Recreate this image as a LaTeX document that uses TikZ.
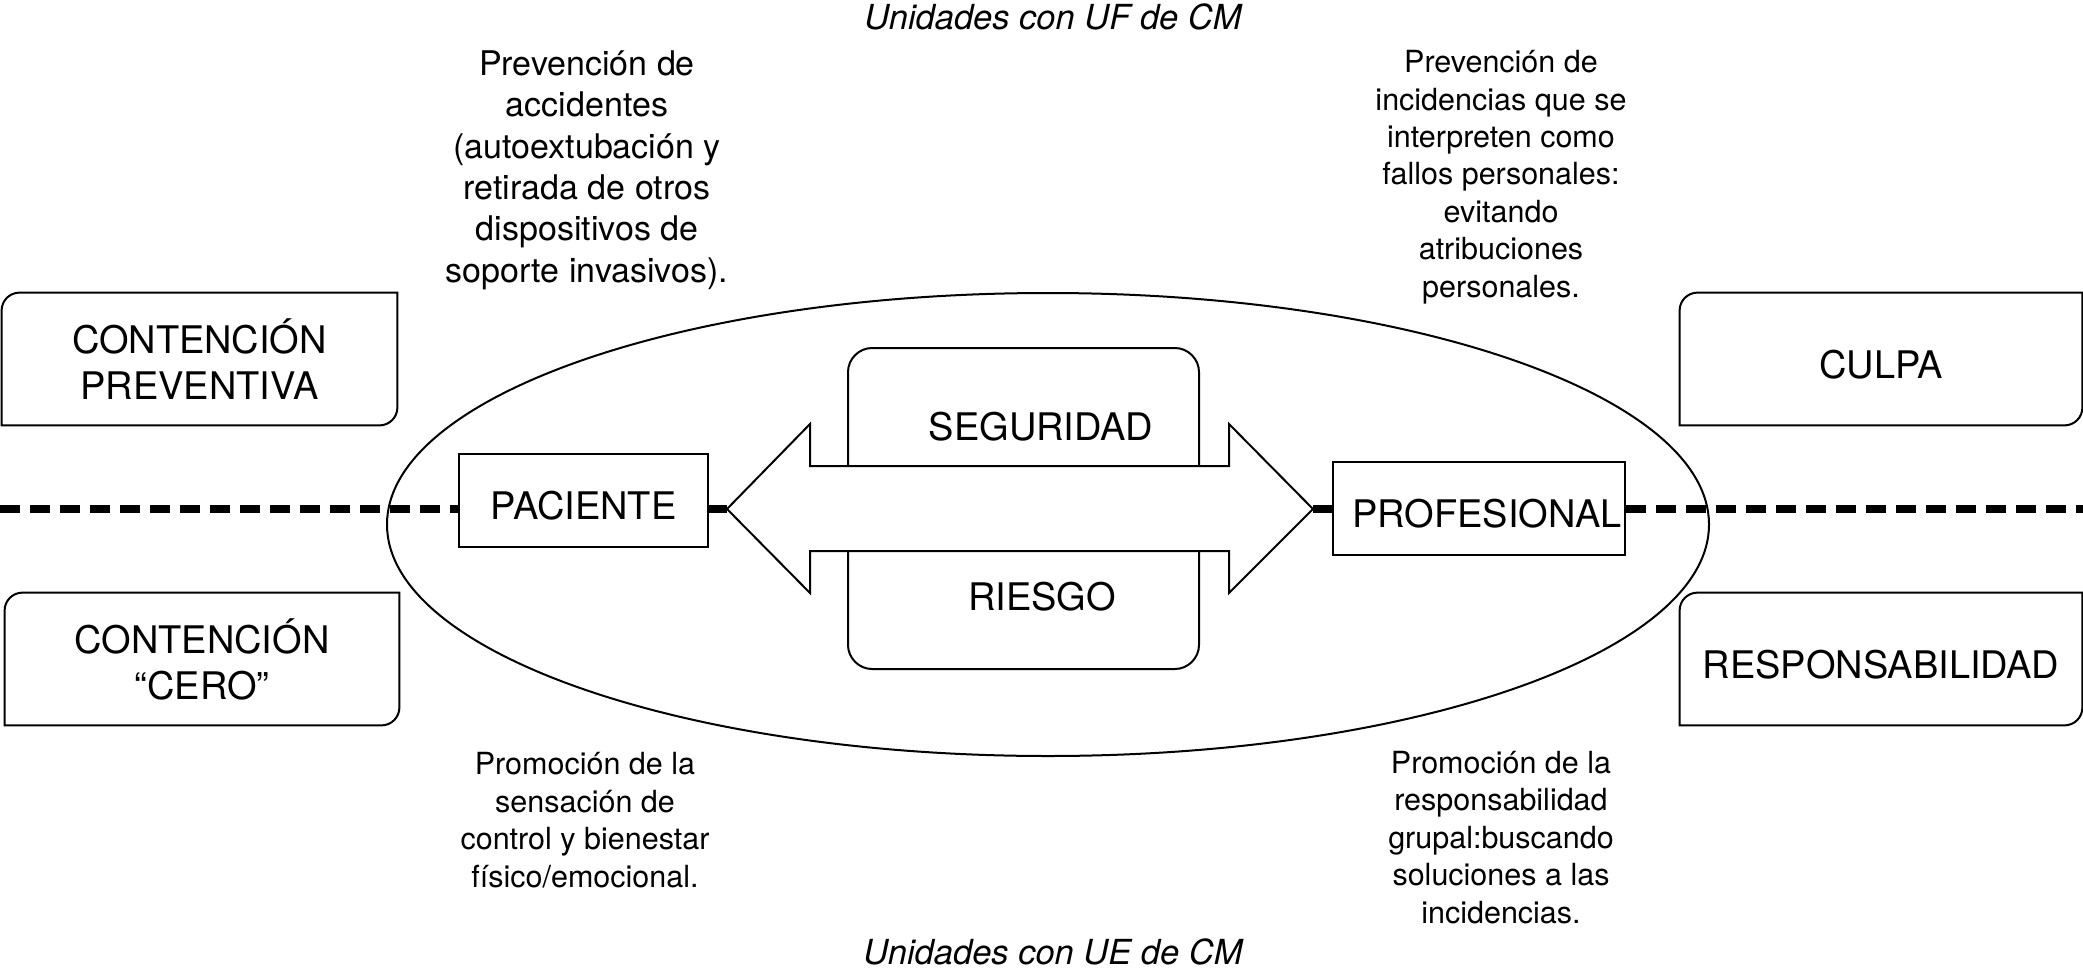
\documentclass[tikz,border=0pt]{standalone}
\usepackage{fontspec}
\setmainfont{TeX Gyre Heros}
\newcommand{\cboxoutline}[1]{%
  \draw[boxline] (#1.south west) -- ([yshift=-9pt]#1.north west)
    .. controls ([yshift=-4pt]#1.north west) and ([xshift=4pt]#1.north west) .. ([xshift=9pt]#1.north west)
    -- (#1.north east) -- ([yshift=9pt]#1.south east)
    .. controls ([yshift=4pt]#1.south east) and ([xshift=-4pt]#1.south east) .. ([xshift=-9pt]#1.south east) -- cycle;}
\begin{document}
\begin{tikzpicture}[x=0.5pt,y=-0.5pt,
  boxline/.style={line width=1pt, draw=black},
  lbl/.style={font=\fontsize{19pt}{23pt}\selectfont, inner sep=0pt, align=center},
  onecap/.style={text height=19pt, text depth=0pt},
  capbox/.style={lbl, onecap, draw, line width=1pt, fill=white},
  nbig/.style={font=\fontsize{17pt}{20.65pt}\selectfont, inner sep=0pt, align=center},
  nsmall/.style={font=\fontsize{15.25pt}{18.7pt}\selectfont, inner sep=0pt, align=center},
  ttl/.style={font=\fontsize{17.25pt}{20pt}\selectfont\itshape, inner sep=0pt},
  dashline/.style={line width=3.75pt, dash pattern=on 10pt off 5pt},
  solidthick/.style={line width=3.75pt}
]
\useasboundingbox (0,0) rectangle (2083,975);

% titles
\node[ttl, anchor=base] (top) at (1053,29) {Unidades con UF de CM};
\node[ttl, anchor=base] (bot) at (1053,964) {Unidades con UE de CM};

% ellipse
\draw[boxline] (1048,524.5) ellipse [x radius=330.5pt, y radius=115.75pt];

% central boxes on the line
\coordinate (L) at (0,509);
\coordinate (R) at (2083,509);
\coordinate (tipL) at (727,509);
\coordinate (tipR) at (1313,509);
\node[capbox, minimum width=124.5pt, minimum height=46.5pt] (pac) at (583.5,500.5) {PACIENTE};
\node[capbox, minimum width=146pt, minimum height=46.5pt] (prof) at (1479,508.5) {\hspace*{8pt}PROFESIONAL};

\draw[dashline] (L) -- (L -| pac.west);
\draw[solidthick] (L -| pac.east) -- (tipL);
\draw[solidthick] (tipR) -- (L -| prof.west);
\draw[dashline] (L -| prof.east) -- (R);

% double arrow
\draw[boxline, fill=white] (tipL) -- (810,424) -- (810,466) -- (1229,466) -- (1229,424)
  -- (tipR) -- (1229,593) -- (1229,551) -- (810,551) -- (810,593) -- cycle;

% SEGURIDAD / RIESGO
\draw[boxline] (848,466) -- (848,372) .. controls (848,359) and (859,348) .. (872,348) -- (1175,348)
  .. controls (1188,348) and (1199,359) .. (1199,372) -- (1199,466);
\draw[boxline] (848,551) -- (848,645) .. controls (848,658) and (859,669) .. (872,669) -- (1175,669)
  .. controls (1188,669) and (1199,658) .. (1199,645) -- (1199,551);
\node[lbl, anchor=base] (seg) at (1041,440) {SEGURIDAD};
\node[lbl, anchor=base] (rie) at (1042,610) {RIESGO};

% side boxes
\node[lbl, minimum width=197.5pt, minimum height=66pt] (cp) at (199.5,359) {CONTENCIÓN\\PREVENTIVA};
\cboxoutline{cp}
\node[lbl, minimum width=197pt, minimum height=66pt] (cc) at (202,659) {CONTENCIÓN\\“CERO”};
\cboxoutline{cc}
\node[lbl, onecap, minimum width=201pt, minimum height=66pt] (culpa) at (1881,359) {CULPA};
\cboxoutline{culpa}
\node[lbl, onecap, minimum width=201pt, minimum height=66pt] (resp) at (1881,659) {RESPONSABILIDAD};
\cboxoutline{resp}

% notes (base anchor = baseline of the last line)
\node[nbig, anchor=base] (tl) at (587,282) {Prevención de\\accidentes\\(autoextubación y\\retirada de otros\\dispositivos de\\soporte invasivos).};
\node[nsmall, anchor=base] (tr) at (1501,297) {Prevención de\\incidencias que se\\interpreten como\\fallos personales:\\evitando\\atribuciones\\personales.};
\node[nsmall, anchor=base] (bl) at (585,887) {Promoción de la\\sensación de\\control y bienestar\\físico/emocional.};
\node[nsmall, anchor=base] (br) at (1501,923) {Promoción de la\\responsabilidad\\grupal:buscando\\soluciones a las\\incidencias.};
\end{tikzpicture}
\end{document}
